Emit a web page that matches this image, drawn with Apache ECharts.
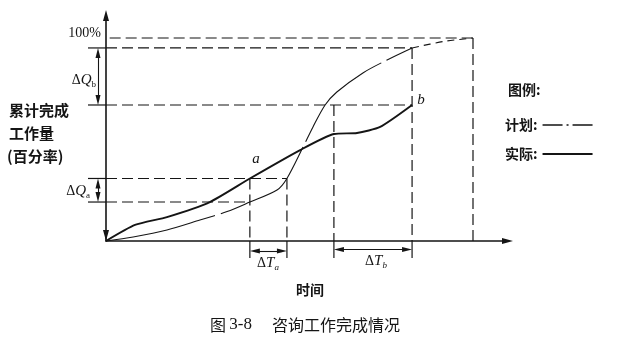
<!DOCTYPE html>
<html><head><meta charset="utf-8">
<script src="https://cdn.jsdelivr.net/npm/echarts@6/dist/echarts.min.js"></script>
<style>html,body{margin:0;padding:0;background:#fff}#c{width:617px;height:339px}</style>
</head><body><div id="c"></div>
<script>
// ---------- data (time: % of planned duration, work: cumulative %) ----------
const planT = [0, 7.4, 16.6, 25.6, 33, 39.2, 46.6, 49.3, 53.7, 56.4, 59.7, 62.9, 70.0, 76.6, 83.4];
const planQ = [0, 2.0, 5.4, 10.3, 14.5, 19.2, 25.1, 30.8, 46.3, 56.2, 67, 73.4, 82.8, 89.2, 95.1];
const planTailT = [83.4, 92, 100];
const planTailQ = [95.1, 98.3, 100];
const actualT = [0, 7.9, 16.6, 28.3, 39.2, 52.9, 62.1, 68.4, 74.7, 83.4];
const actualQ = [0, 7.9, 11.8, 19.2, 30.8, 44.8, 52.7, 53.2, 56.2, 67];
const deltaTa = [39.2, 49.3];
const deltaTb = [62.1, 83.4];
const deltaQa = [19.2, 30.8];
const deltaQb = [67, 95.1];
const fullT = 100, fullQ = 100;
const seriesNames = ['计划', '实际'];

// ---------- layout ----------
const INK = '#151515';
const CJK = '"Noto Sans CJK SC", sans-serif';
const SERIF = '"Liberation Serif", "DejaVu Serif", serif';
const W = 617, H = 339;
const OX = 106, OY = 241, KX = 3.67, KY = 2.03;
const AW = 6, AH = 11;
const xMax0 = (513 - AH / 2 - OX) / KX;
const yMax0 = (OY - 10 - AH / 2) / KY;
const TICK = -18 / KX, DROP = -17 / KY, QARROW_T = -8 / KX;
const DASH = [11, 5];
const zip = (a, b) => a.map((v, i) => [v, b[i]]);

function path(pts, type, width, extra) {
  return Object.assign({
    type: 'line', xAxisIndex: 1, yAxisIndex: 1, data: pts, symbol: 'none',
    silent: true, animation: false, clip: false,
    lineStyle: { color: INK, width: width || 1.2, type: type || 'solid' }
  }, extra || {});
}

const series = [];
// horizontal guide lines [q, tStart, tEnd, hasTick]
[[fullQ, 1, fullT, false], [deltaQb[1], 0, deltaTb[1], true], [deltaQb[0], 0, deltaTb[1], true],
 [deltaQa[1], 0, deltaTa[1], true], [deltaQa[0], 0, deltaTa[0], true]].forEach(h => {
  series.push(path([[h[1], h[0]], [h[2], h[0]]], DASH));
  if (h[3]) series.push(path([[TICK, h[0]], [0, h[0]]], 'solid', 1.2));
});
// vertical guide lines [t, qTop, hasDrop]
[[fullT, fullQ, false], [deltaTb[1], deltaQb[1], true], [deltaTb[0], deltaQb[0], true],
 [deltaTa[1], deltaQa[1], true], [deltaTa[0], deltaQa[1], true]].forEach(v => {
  series.push(path([[v[0], v[1]], [v[0], 0]], DASH));
  if (v[2]) series.push(path([[v[0], 0], [v[0], DROP]], 'solid', 1.2));
});
// curves
series.push(path(zip(planT, planQ), [112, 6], 1.1, { name: seriesNames[0], smooth: 0.3, z: 3 }));
series.push(path(zip(planTailT, planTailQ), [7, 5], 1.1, { smooth: 0.3, z: 3 }));
series.push(path(zip(actualT, actualQ), 'solid', 1.9, { name: seriesNames[1], smooth: 0.2, z: 4 }));
// double arrows
const AR = 10, dQ = AR / 2 / KY, dT = AR / 2 / KX;
series.push({
  type: 'line', xAxisIndex: 1, yAxisIndex: 1, data: [], silent: true, animation: false,
  markLine: {
    silent: true, animation: false, symbol: ['triangle', 'triangle'], symbolSize: [5, AR],
    label: { show: false }, lineStyle: { color: INK, width: 1.1, type: 'solid' },
    data: [
      [{ coord: [QARROW_T, deltaQb[0] + dQ] }, { coord: [QARROW_T, deltaQb[1] - dQ] }],
      [{ coord: [QARROW_T, deltaQa[0] + dQ] }, { coord: [QARROW_T, deltaQa[1] - dQ] }],
      [{ coord: [deltaTa[0] + dT, -10 / KY] }, { coord: [deltaTa[1] - dT, -10 / KY] }],
      [{ coord: [deltaTb[0] + dT, -8.5 / KY] }, { coord: [deltaTb[1] - dT, -8.5 / KY] }]
    ]
  }
});

function t(text, x, y, st) {
  return { type: 'text', x: x, y: y, silent: true,
    style: Object.assign({ text: text, fill: INK, verticalAlign: 'middle', align: 'left' }, st) };
}
const deltaRich = {
  d: { fontFamily: SERIF, fontSize: 14, lineHeight: 18, fill: INK },
  q: { fontFamily: SERIF, fontSize: 15, fontStyle: 'italic', lineHeight: 18, fill: INK },
  s: { fontFamily: SERIF, fontSize: 9, lineHeight: 10, verticalAlign: 'bottom', fill: INK },
  si: { fontFamily: SERIF, fontSize: 9, fontStyle: 'italic', lineHeight: 8, verticalAlign: 'bottom', fill: INK }
};
const cjkB = { fontFamily: CJK, fontSize: 15, fontWeight: 'bold' };
const graphic = [
  t('100%', 101, 33, { align: 'right', fontFamily: SERIF, fontSize: 14 }),
  t('{d|Δ}{q|Q}{s|b}', 96, 80, { align: 'right', rich: deltaRich }),
  t('{d|Δ}{q|Q}{s|a}', 90, 191, { align: 'right', rich: deltaRich }),
  t('{d|Δ}{q|T}{si|a}', 268, 263, { align: 'center', rich: deltaRich }),
  t('{d|Δ}{q|T}{si|b}', 376, 261, { align: 'center', rich: deltaRich }),
  t('累计完成', 9, 110, cjkB),
  t('工作量', 9, 133, cjkB),
  t('(百分率)', 7, 156, cjkB),
  t('a', 256, 159, { align: 'center', fontFamily: SERIF, fontStyle: 'italic', fontSize: 15 }),
  t('b', 421, 100, { align: 'center', fontFamily: SERIF, fontStyle: 'italic', fontSize: 15 }),
  t('图例:', 508, 90, { fontFamily: CJK, fontSize: 14, fontWeight: 'bold' }),
  t('时间', 310, 290, { align: 'center', fontFamily: CJK, fontSize: 14, fontWeight: 'bold' }),
  t('{c|图} {n|3-8}', 210, 325, { rich: { c: { fontFamily: CJK, fontSize: 16, fill: INK }, n: { fontFamily: SERIF, fontSize: 17, fill: INK } } }),
  t('咨询工作完成情况', 272, 325, { fontFamily: CJK, fontSize: 16 })
];

const axisHidden = { show: false };
const chart = echarts.init(document.getElementById('c'), null, { renderer: 'canvas' });
chart.setOption({
  backgroundColor: '#ffffff',
  animation: false,
  grid: [
    { left: OX, top: OY - yMax0 * KY, width: xMax0 * KX, height: yMax0 * KY, outerBoundsMode: 'none', containLabel: false },
    { left: 0, top: 0, width: W, height: H, outerBoundsMode: 'none', containLabel: false }
  ],
  xAxis: [
    { gridIndex: 0, type: 'value', min: 0, max: xMax0,
      axisLine: { show: true, onZero: false, symbol: ['none', 'triangle'], symbolSize: [AW, AH], lineStyle: { color: INK, width: 1.6 } },
      axisTick: { show: false }, axisLabel: { show: false }, splitLine: { show: false } },
    Object.assign({ gridIndex: 1, type: 'value', min: -OX / KX, max: (W - OX) / KX }, axisHidden)
  ],
  yAxis: [
    { gridIndex: 0, type: 'value', min: 0, max: yMax0,
      axisLine: { show: true, onZero: false, symbol: ['triangle', 'triangle'], symbolSize: [AW, AH], symbolOffset: [AH / 2, 0], lineStyle: { color: INK, width: 1.6 } },
      axisTick: { show: false }, axisLabel: { show: false }, splitLine: { show: false } },
    Object.assign({ gridIndex: 1, type: 'value', min: -(H - OY) / KY, max: OY / KY }, axisHidden)
  ],
  legend: {
    orient: 'vertical', left: 505, top: 118, align: 'right', padding: 0,
    itemWidth: 50, itemHeight: 14, itemGap: 15, selectedMode: false,
    formatter: n => n + ':',
    textStyle: { color: INK, fontSize: 14, fontWeight: 'bold', fontFamily: CJK, width: 40 },
    data: [
      { name: seriesNames[0], itemStyle: { opacity: 0 }, lineStyle: { type: [20, 4, 2, 4], width: 1.3, color: INK } },
      { name: seriesNames[1], itemStyle: { opacity: 0 }, lineStyle: { type: 'solid', width: 2, color: INK } }
    ]
  },
  series: series,
  graphic: graphic
});
</script></body></html>
